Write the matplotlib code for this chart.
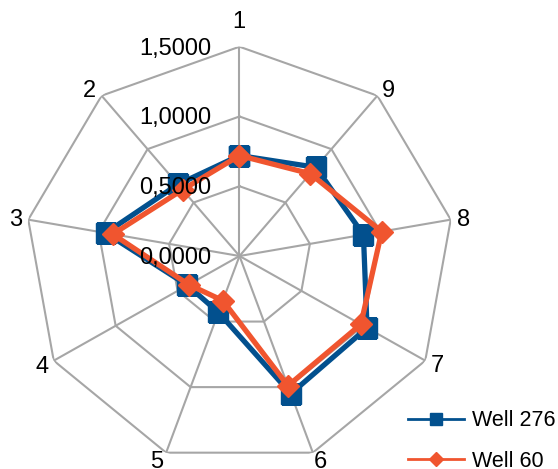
import numpy as np
import matplotlib.pyplot as plt
from matplotlib.lines import Line2D

plt.rcParams['font.family'] = ['Liberation Sans', 'DejaVu Sans']

# spoke labels and the two series
spokes = ['1', '2', '3', '4', '5', '6', '7', '8', '9']
well_276 = [0.72, 0.67, 0.95, 0.42, 0.43, 1.05, 1.03, 0.88, 0.83]
well_60 = [0.72, 0.62, 0.90, 0.41, 0.34, 0.99, 0.98, 1.01, 0.77]

ring_values = [0.0, 0.5, 1.0, 1.5]
ring_labels = ['0,0000', '0,5000', '1,0000', '1,5000']

# pixel offsets of each spoke label from its outer vertex (x right, y down)
spoke_offsets = [(-1, -27), (-12, -7), (-13, -2), (-12, 4), (-9, 7),
                 (8, 7), (12, 3), (13, -2), (11, -7)]

blue = '#02508E'
orange = '#F0552F'
grid_gray = '#A6A6A6'

n = len(spokes)
theta = np.linspace(0, 2 * np.pi, n, endpoint=False)
theta_closed = np.append(theta, theta[0])

fig = plt.figure(figsize=(5.58, 4.69), dpi=100)
ax = fig.add_axes([0.0448, 0.0079, 0.7688, 0.8925], projection='polar')
ax.set_aspect('auto')
ax.set_theta_offset(np.pi / 2)
ax.set_ylim(0, 1.5)
ax.set_axis_off()

# polygon grid
for r in ring_values[1:]:
    ax.plot(theta_closed, [r] * (n + 1), color=grid_gray, lw=1.5, zorder=1)
for t in theta:
    ax.plot([t, t], [0, 1.5], color=grid_gray, lw=1.5, zorder=1)

# series
ax.plot(theta_closed, well_276 + well_276[:1], color=blue, lw=3.8,
        marker='s', ms=14, zorder=3)
ax.plot(theta_closed, well_60 + well_60[:1], color=orange, lw=3.8,
        marker='D', ms=11, zorder=4)

# ring value labels along the first spoke
for r, lbl in zip(ring_values, ring_labels):
    ax.annotate(lbl, xy=(0, r), xytext=(-28, -8), textcoords='offset pixels',
                ha='right', va='baseline', fontsize=17, zorder=6,
                annotation_clip=False)

# spoke labels
for t, lbl, (dx, dy) in zip(theta, spokes, spoke_offsets):
    ax.annotate(lbl, xy=(t, 1.5), xytext=(dx, -(dy + 8)),
                textcoords='offset pixels', ha='center', va='baseline',
                fontsize=17, annotation_clip=False)

handles = [
    Line2D([], [], color=blue, lw=2, marker='s', ms=9),
    Line2D([], [], color=orange, lw=2, marker='D', ms=7),
]
fig.legend(handles, ['Well 276', 'Well 60'], loc='center left',
           bbox_to_anchor=(0.715, 0.06), frameon=False, fontsize=15.5,
           handlelength=2.6, handletextpad=0.4, labelspacing=0.9,
           borderaxespad=0)

fig.savefig('out.png', dpi=100)
